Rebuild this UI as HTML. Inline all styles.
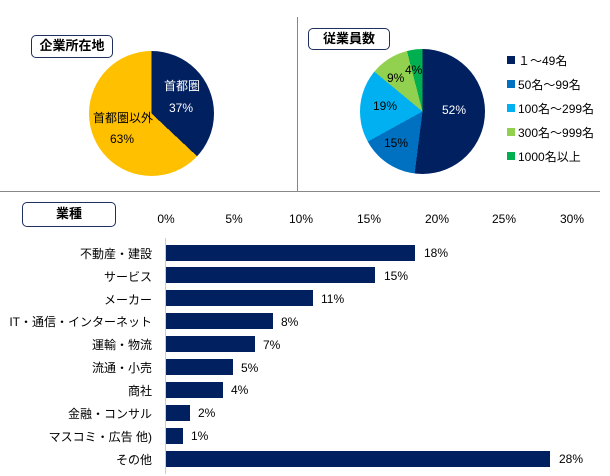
<!DOCTYPE html>
<html><head><meta charset="utf-8"><style>
body{margin:0;width:610px;height:476px;background:#fff;position:relative;overflow:hidden;font-family:"Liberation Sans","Noto Sans CJK JP",sans-serif;color:#000}
.a{position:absolute;white-space:nowrap}
.box{position:absolute;border:1.5px solid #1f2f5f;border-radius:5px;font-weight:bold;font-size:13px;text-align:center;box-sizing:border-box}
.pie{position:absolute;border-radius:50%}
.t{font-size:12px}
.bar{position:absolute;left:166px;height:16px;background:#002060}
.lab{position:absolute;right:458px;font-size:12px;white-space:nowrap}
.val{position:absolute;font-size:12px;margin-top:2px}
.tick{position:absolute;top:212px;font-size:12px;width:40px;text-align:center}
.sq{position:absolute;left:507px;width:8px;height:8px}
.lg{position:absolute;left:518px;font-size:12px}
</style></head><body>
<div class="a" style="left:297px;top:17px;width:1px;height:174px;background:#888"></div>
<div class="a" style="left:0;top:191px;width:600px;height:1px;background:#888"></div>

<div class="box" style="left:31px;top:35px;width:82px;height:23px;line-height:20px">企業所在地</div>
<div class="pie" style="left:89px;top:51px;width:125px;height:125px;background:conic-gradient(#002060 0 37%,#FFC000 37% 100%)"></div>
<div class="a t" style="left:164px;top:77px;color:#fff">首都圏</div>
<div class="a t" style="left:169px;top:101px;color:#fff">37%</div>
<div class="a t" style="left:93px;top:109px">首都圏以外</div>
<div class="a t" style="left:110px;top:132px">63%</div>

<div class="box" style="left:308px;top:28px;width:82px;height:22px;line-height:19px">従業員数</div>
<div class="pie" style="left:360px;top:49px;width:125px;height:125px;background:conic-gradient(#002060 0 52%,#0070C0 52% 67%,#00B0F0 67% 86%,#92D050 86% 96%,#00B050 96% 100%)"></div>
<div class="a t" style="left:442px;top:103px;color:#fff">52%</div>
<div class="a t" style="left:384px;top:136px">15%</div>
<div class="a t" style="left:373px;top:99px">19%</div>
<div class="a t" style="left:387px;top:71px">9%</div>
<div class="a t" style="left:405px;top:63px">4%</div>
<div class="sq" style="top:56px;background:#002060"></div><div class="lg" style="top:52px">１～49名</div>
<div class="sq" style="top:80px;background:#0070C0"></div><div class="lg" style="top:76px">50名～99名</div>
<div class="sq" style="top:104px;background:#00B0F0"></div><div class="lg" style="top:100px">100名～299名</div>
<div class="sq" style="top:128px;background:#92D050"></div><div class="lg" style="top:124px">300名～999名</div>
<div class="sq" style="top:152px;background:#00B050"></div><div class="lg" style="top:148px">1000名以上</div>

<div class="box" style="left:22px;top:202px;width:94px;height:25px;line-height:21px">業種</div>
<div class="tick" style="left:146px">0%</div>
<div class="tick" style="left:214px">5%</div>
<div class="tick" style="left:281px">10%</div>
<div class="tick" style="left:349px">15%</div>
<div class="tick" style="left:417px">20%</div>
<div class="tick" style="left:484px">25%</div>
<div class="tick" style="left:552px">30%</div>
<div class="a" style="left:165px;top:238px;width:1px;height:236px;background:#ccc"></div>

<div class="bar" style="top:245px;width:249px"></div><div class="lab" style="top:245px">不動産・建設</div><div class="val" style="left:424px;top:244px">18%</div>
<div class="bar" style="top:267px;width:209px"></div><div class="lab" style="top:268px">サービス</div><div class="val" style="left:384px;top:267px">15%</div>
<div class="bar" style="top:290px;width:147px"></div><div class="lab" style="top:291px">メーカー</div><div class="val" style="left:321px;top:290px">11%</div>
<div class="bar" style="top:313px;width:107px"></div><div class="lab" style="top:313px">IT・通信・インターネット</div><div class="val" style="left:281px;top:313px">8%</div>
<div class="bar" style="top:336px;width:89px"></div><div class="lab" style="top:336px">運輸・物流</div><div class="val" style="left:263px;top:336px">7%</div>
<div class="bar" style="top:359px;width:67px"></div><div class="lab" style="top:359px">流通・小売</div><div class="val" style="left:241px;top:359px">5%</div>
<div class="bar" style="top:382px;width:57px"></div><div class="lab" style="top:382px">商社</div><div class="val" style="left:231px;top:381px">4%</div>
<div class="bar" style="top:405px;width:24px"></div><div class="lab" style="top:405px">金融・コンサル</div><div class="val" style="left:198px;top:404px">2%</div>
<div class="bar" style="top:428px;width:17px"></div><div class="lab" style="top:428px">マスコミ・広告 他)</div><div class="val" style="left:191px;top:427px">1%</div>
<div class="bar" style="top:451px;width:384px"></div><div class="lab" style="top:451px">その他</div><div class="val" style="left:559px;top:450px">28%</div>
</body></html>
